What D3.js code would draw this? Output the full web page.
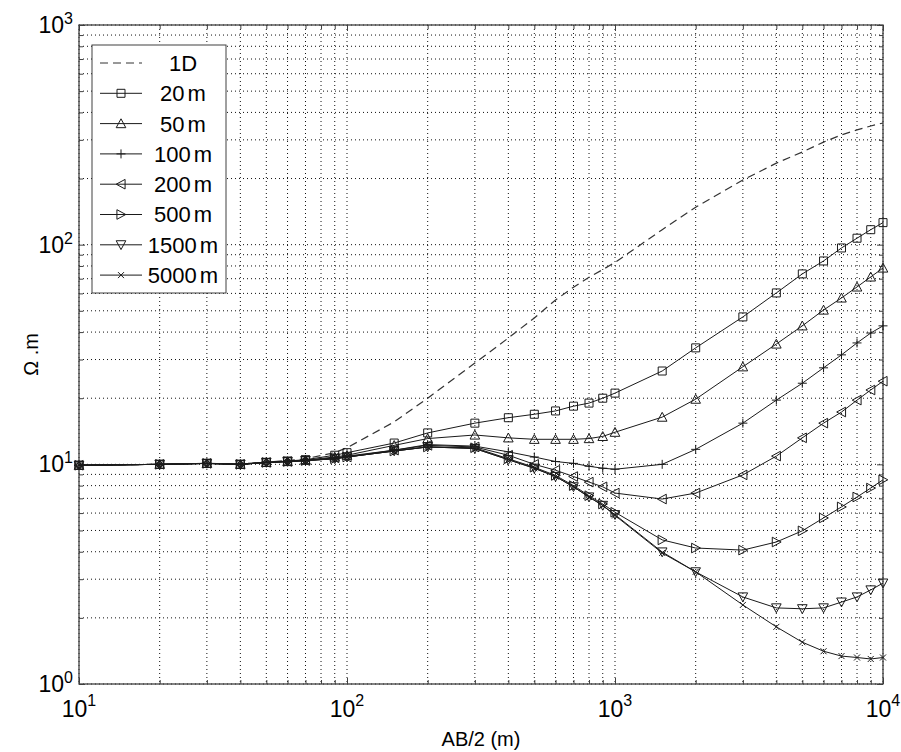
<!DOCTYPE html>
<html>
<head>
<meta charset="utf-8">
<script src="https://cdn.jsdelivr.net/npm/d3@7"></script>
<style>
  body { margin: 0; background: #fff; }
  text { font-family: "Liberation Sans", Arial, sans-serif; fill: #000; }
</style>
</head>
<body>
<div id="chart"></div>
<script>
// AB/2 (m) sample positions
var abHalf = [10, 20, 30, 40, 50, 60, 70, 90, 100, 150, 200, 300, 400, 500, 600, 700, 800, 900,
              1000, 1500, 2000, 3000, 4000, 5000, 6000, 7000, 8000, 9000, 10000];

// apparent resistivity (ohm.m)
var res1D   = [9.9, 10.0, 10.1, 10.05, 10.25, 10.4, 10.6, 11.3, 11.9, 15.6, 20.0, 28.9, 37.6, 46.4, 56, 64, 71, 77,
               83, 117, 148, 197, 235, 264, 293, 316, 333, 347, 358];
var res20   = [9.9, 10.0, 10.1, 10.0, 10.2, 10.35, 10.5, 11.0, 11.3, 12.5, 13.9, 15.4, 16.3, 16.9, 17.5, 18.4, 19.0, 20.0,
               21.1, 26.6, 33.9, 46.9, 60.3, 73.6, 84.3, 96.6, 107, 117, 126];
var res50   = [9.9, 10.0, 10.1, 10.0, 10.2, 10.3, 10.45, 10.8, 11.0, 12.2, 13.1, 13.6, 13.2, 13.0, 13.0, 13.0, 13.1, 13.4,
               14.0, 16.4, 19.8, 27.8, 35.3, 42.7, 50.4, 57.2, 64.2, 71.3, 78.3];
var res100  = [9.9, 10.0, 10.1, 10.0, 10.2, 10.3, 10.4, 10.7, 10.9, 11.6, 12.3, 12.1, 11.4, 10.8, 10.3, 10.1, 9.8, 9.6,
               9.5, 10.0, 11.7, 15.4, 19.6, 23.4, 27.5, 31.5, 35.7, 39.6, 42.7];
var res200  = [9.9, 10.0, 10.1, 10.0, 10.2, 10.3, 10.4, 10.7, 10.8, 11.6, 12.2, 12.0, 11.0, 10.0, 9.4, 8.8, 8.3, 7.9,
               7.4, 6.95, 7.4, 8.95, 10.9, 13.2, 15.4, 17.3, 19.6, 21.8, 23.9];
var res500  = [9.9, 10.0, 10.1, 10.0, 10.2, 10.3, 10.4, 10.6, 10.8, 11.5, 12.0, 11.9, 10.6, 9.7, 8.9, 8.0, 7.2, 6.6,
               6.05, 4.53, 4.16, 4.07, 4.43, 4.98, 5.7, 6.4, 7.1, 7.8, 8.5];
var res1500 = [9.9, 10.0, 10.1, 10.0, 10.2, 10.3, 10.4, 10.6, 10.8, 11.5, 12.0, 11.8, 10.5, 9.6, 8.8, 7.9, 7.1, 6.5,
               5.9, 3.99, 3.24, 2.49, 2.22, 2.20, 2.22, 2.36, 2.49, 2.68, 2.88];
var res5000 = [9.9, 10.0, 10.1, 10.0, 10.2, 10.3, 10.4, 10.6, 10.8, 11.5, 12.0, 11.8, 10.5, 9.6, 8.8, 7.9, 7.1, 6.5,
               5.85, 3.95, 3.24, 2.29, 1.82, 1.55, 1.41, 1.34, 1.32, 1.30, 1.32];

var seriesNames   = ["1D", "20 m", "50 m", "100 m", "200 m", "500 m", "1500 m", "5000 m"];
var seriesValues  = [res1D, res20, res50, res100, res200, res500, res1500, res5000];
var seriesMarkers = ["none", "square", "triUp", "plus", "triLeft", "triRight", "triDown", "x"];

var xLabel = "AB/2 (m)";
var yLabel = "\u03A9 .m";

var width_chart = 901,
    height_chart = 752;
var margin = {left: 79, top: 25, right: 18, bottom: 68};
var plot_w = width_chart - margin.left - margin.right,
    plot_h = height_chart - margin.top - margin.bottom;

var axis_color = "#404040";
var line_color = "#1a1a1a";

var svg = d3.select("#chart").append("svg")
    .attr("width", width_chart)
    .attr("height", height_chart);

var x = d3.scaleLog().domain([10, 10000]).range([0, plot_w]);
var y = d3.scaleLog().domain([1, 1000]).range([plot_h, 0]);

var g = svg.append("g")
    .attr("transform", "translate(" + margin.left + "," + margin.top + ")");

function isMajor(v) {
    var l = Math.log10(v);
    return Math.abs(l - Math.round(l)) < 1e-9;
}

var xTicks = x.ticks(),
    yTicks = y.ticks();

// dotted grid, major + minor
g.append("g").selectAll("line.gx")
    .data(xTicks)
    .enter().append("line")
    .attr("x1", function(d) { return x(d); })
    .attr("x2", function(d) { return x(d); })
    .attr("y1", 0)
    .attr("y2", plot_h)
    .attr("stroke", "#111")
    .attr("stroke-width", 1)
    .attr("stroke-dasharray", "1,3");

g.append("g").selectAll("line.gy")
    .data(yTicks)
    .enter().append("line")
    .attr("y1", function(d) { return y(d); })
    .attr("y2", function(d) { return y(d); })
    .attr("x1", 0)
    .attr("x2", plot_w)
    .attr("stroke", "#111")
    .attr("stroke-width", 1)
    .attr("stroke-dasharray", "1,3");

// ticks pointing inward on all four sides
function tickAxis(axisFn, scale, values, size, transform) {
    var a = axisFn(scale).tickValues(values).tickSizeInner(-size).tickSizeOuter(0).tickFormat("");
    var ag = g.append("g").attr("transform", transform).call(a);
    ag.select(".domain").remove();
    ag.selectAll(".tick line").attr("stroke", axis_color);
    return ag;
}

var xMajor = xTicks.filter(isMajor), xMinor = xTicks.filter(function(d) { return !isMajor(d); });
var yMajor = yTicks.filter(isMajor), yMinor = yTicks.filter(function(d) { return !isMajor(d); });

tickAxis(d3.axisBottom, x, xMajor, 6, "translate(0," + plot_h + ")");
tickAxis(d3.axisBottom, x, xMinor, 4, "translate(0," + plot_h + ")");
tickAxis(d3.axisTop, x, xMajor, 6, "translate(0,0)");
tickAxis(d3.axisTop, x, xMinor, 4, "translate(0,0)");
tickAxis(d3.axisLeft, y, yMajor, 6, "translate(0,0)");
tickAxis(d3.axisLeft, y, yMinor, 4, "translate(0,0)");
tickAxis(d3.axisRight, y, yMajor, 6, "translate(" + plot_w + ",0)");
tickAxis(d3.axisRight, y, yMinor, 4, "translate(" + plot_w + ",0)");

// power-of-ten tick labels
function powLabel(sel, expDy) {
    sel.each(function(d) {
        var t = d3.select(this).text(null);
        t.append("tspan").text("10");
        t.append("tspan")
            .attr("font-size", "16px")
            .attr("dy", expDy)
            .text(Math.round(Math.log10(d)));
    });
}

var xLab = g.append("g").selectAll("text.xl")
    .data(xMajor)
    .enter().append("text")
    .attr("x", function(d) { return x(d); })
    .attr("y", plot_h + 33)
    .attr("text-anchor", "middle")
    .style("font-size", "23px");
powLabel(xLab, -11);

var yLab = g.append("g").selectAll("text.yl")
    .data(yMajor)
    .enter().append("text")
    .attr("x", -6)
    .attr("y", function(d) { return y(d) + 8; })
    .attr("text-anchor", "end")
    .style("font-size", "23px");
powLabel(yLab, -9);

// box
g.append("rect")
    .attr("width", plot_w)
    .attr("height", plot_h)
    .attr("fill", "none")
    .attr("stroke", axis_color)
    .attr("stroke-width", 1.3);

// axis titles
svg.append("text")
    .attr("x", margin.left + plot_w / 2)
    .attr("y", height_chart - 6)
    .attr("text-anchor", "middle")
    .style("font-size", "20px")
    .text(xLabel);

svg.append("text")
    .attr("transform", "translate(38," + (margin.top + plot_h / 2) + ") rotate(-90)")
    .attr("text-anchor", "middle")
    .style("font-size", "20px")
    .text(yLabel);

function markerPath(kind) {
    var r;
    if (kind == "square") { r = 4; return "M" + -r + "," + -r + "H" + r + "V" + r + "H" + -r + "Z"; }
    if (kind == "plus") { r = 4.5; return "M" + -r + ",0H" + r + "M0," + -r + "V" + r; }
    if (kind == "x") { r = 3; return "M" + -r + "," + -r + "L" + r + "," + r + "M" + -r + "," + r + "L" + r + "," + -r; }
    r = 4.8;
    var h = r * 0.85;
    if (kind == "triUp") return "M0," + -r + "L" + r + "," + h + "L" + -r + "," + h + "Z";
    if (kind == "triDown") return "M0," + r + "L" + r + "," + -h + "L" + -r + "," + -h + "Z";
    if (kind == "triLeft") return "M" + -r + ",0L" + h + "," + -r + "L" + h + "," + r + "Z";
    if (kind == "triRight") return "M" + r + ",0L" + -h + "," + -r + "L" + -h + "," + r + "Z";
    return "";
}

var line = d3.line()
    .x(function(d) { return x(d.ab); })
    .y(function(d) { return y(d.rho); });

var series = seriesNames.map(function(name, i) {
    return {
        name: name,
        marker: seriesMarkers[i],
        points: abHalf.map(function(a, j) { return {ab: a, rho: seriesValues[i][j]}; })
    };
});

var sg = g.selectAll("g.series")
    .data(series)
    .enter().append("g")
    .attr("class", "series");

sg.append("path")
    .attr("d", function(d) { return line(d.points); })
    .attr("fill", "none")
    .attr("stroke", function(d) { return d.marker == "none" ? "#333" : line_color; })
    .attr("stroke-width", function(d) { return d.marker == "none" ? 1.2 : 1; })
    .attr("stroke-dasharray", function(d) { return d.marker == "none" ? "8,5" : null; });

sg.each(function(s) {
    if (s.marker == "none") return;
    d3.select(this).selectAll("path.mk")
        .data(s.points)
        .enter().append("path")
        .attr("class", "mk")
        .attr("transform", function(d) { return "translate(" + x(d.ab) + "," + y(d.rho) + ")"; })
        .attr("d", markerPath(s.marker))
        .attr("fill", "none")
        .attr("stroke", line_color)
        .attr("stroke-width", 1);
});

// legend
var leg = svg.append("g").attr("transform", "translate(92,45)");
leg.append("rect")
    .attr("width", 134)
    .attr("height", 248)
    .attr("fill", "#fff")
    .attr("stroke", axis_color)
    .attr("stroke-width", 1);

var row = leg.selectAll("g.row")
    .data(series)
    .enter().append("g")
    .attr("transform", function(d, i) { return "translate(0," + (18 + i * 30.3) + ")"; });

row.append("line")
    .attr("x1", 8)
    .attr("x2", 50)
    .attr("stroke", function(d) { return d.marker == "none" ? "#333" : line_color; })
    .attr("stroke-width", 1)
    .attr("stroke-dasharray", function(d) { return d.marker == "none" ? "8,5" : null; });

row.append("path")
    .attr("transform", "translate(29,0)")
    .attr("d", function(d) { return markerPath(d.marker); })
    .attr("fill", "none")
    .attr("stroke", line_color);

row.append("text")
    .attr("x", 91)
    .attr("dy", "0.36em")
    .attr("text-anchor", "middle")
    .style("font-size", "22px")
    .style("word-spacing", "-3px")
    .text(function(d) { return d.name; });
</script>
</body>
</html>
